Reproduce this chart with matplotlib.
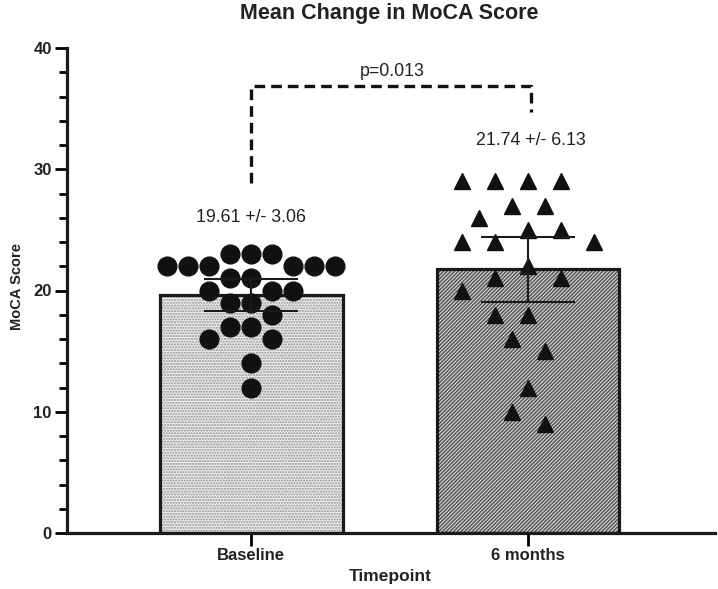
import matplotlib
matplotlib.use('Agg')
import matplotlib.pyplot as plt
import numpy as np

# ---------------- data ----------------
categories = ['Baseline', '6 months']
baseline_scores = [23, 23, 23, 22, 22, 22, 22, 22, 22, 21, 21, 20, 20, 20,
                   19, 19, 18, 17, 17, 16, 16, 14, 12]
month6_scores = [29, 29, 29, 29, 27, 27, 26, 25, 25, 24, 24, 24, 22, 21, 21,
                 20, 18, 18, 16, 15, 12, 10, 9]
means = [19.61, 21.74]
sds = [3.06, 6.13]
ci_half = [1.32, 2.65]
p_label = 'p=0.013'
title = 'Mean Change in MoCA Score'
xlabel = 'Timepoint'
ylabel = 'MoCA Score'

plt.rcParams['font.family'] = ['Liberation Sans', 'DejaVu Sans']

W, H = 718, 589
fig = plt.figure(figsize=(W / 100, H / 100), dpi=100)
ax = fig.add_axes([67 / W, 1 - 533 / H, (715 - 67) / W, (533 - 48) / H])
ax.set_xlim(-0.665, 1.675)
ax.set_ylim(0, 40)

xpos = np.arange(len(categories))
bar_w = 0.66

# bars: hatch layer + outline layer
plt.rcParams['hatch.linewidth'] = 1.0
ax.bar(xpos[0], means[0], width=bar_w, facecolor='#ececec', edgecolor='#909090',
       hatch='......', linewidth=0, zorder=1)
plt.rcParams['hatch.linewidth'] = 1.2
ax.bar(xpos[1], means[1], width=bar_w, facecolor='#e8e8e8', edgecolor='#5a5a5a',
       hatch='/////////', linewidth=0, zorder=1)
ax.bar(xpos, means, width=bar_w, fill=False, edgecolor='#1a1a1a',
       linewidth=2.3, zorder=2)

# swarm layout in pixel space
px_x = ax.transData.transform((1, 0))[0] - ax.transData.transform((0, 0))[0]
px_y = ax.transData.transform((0, 1))[1] - ax.transData.transform((0, 0))[1]


def swarm(vals, step_px, dmin_px):
    vals = np.asarray(vals, float)
    order = np.argsort(-vals, kind='stable')
    cands = [0.0]
    for k in range(1, 60):
        cands += [-k * step_px, k * step_px]
    placed = []
    offs = np.zeros(len(vals))
    for i in order:
        y = vals[i] * px_y
        for c in cands:
            if all(np.hypot(c - px, y - py) >= dmin_px for px, py in placed):
                break
        placed.append((c, y))
        offs[i] = c
    return offs / px_x


off0 = swarm(baseline_scores, 10.5, 19.5)
off1 = swarm(month6_scores, 16.5, 29)

ax.plot(xpos[0] + off0, baseline_scores, 'o', color='#111111', ms=13.5,
        mec='#111111', zorder=3, linestyle='none')
ax.plot(xpos[1] + off1, month6_scores, '^', color='#111111', ms=12,
        mec='#111111', zorder=3, linestyle='none')

# error bars (95% CI)
ax.errorbar(xpos, means, yerr=ci_half, fmt='none', ecolor='#1a1a1a',
            elinewidth=1.5, capsize=34, capthick=1.5, zorder=4)

# value labels
ax.text(xpos[0], 26.0, f'{means[0]:.2f} +/- {sds[0]:.2f}', ha='center',
        va='center', fontsize=12.8, color='#222222')
ax.text(xpos[1] + 0.01, 32.4, f'{means[1]:.2f} +/- {sds[1]:.2f}', ha='center',
        va='center', fontsize=12.8, color='#222222')

# significance bracket
ax.plot([xpos[0], xpos[0], xpos[1] + 0.01, xpos[1] + 0.01],
        [28.9, 36.9, 36.9, 34.7], color='#111111', lw=2.4,
        dashes=(3.2, 1.8), zorder=3, solid_capstyle='butt')
ax.text((xpos[0] + xpos[1]) / 2 + 0.01, 38.1, p_label, ha='center', va='center',
        fontsize=12.8, color='#222222')

# axes styling
for s in ['top', 'right']:
    ax.spines[s].set_visible(False)
for s in ['left', 'bottom']:
    ax.spines[s].set_linewidth(2.3)
    ax.spines[s].set_color('#1a1a1a')
ax.set_yticks(np.arange(0, 41, 10))
ax.set_yticks(np.arange(0, 41, 2), minor=True)
ax.tick_params(axis='y', which='major', length=9, width=2, pad=2,
               labelsize=12)
ax.tick_params(axis='y', which='minor', length=6, width=2)
ax.set_xticks(xpos)
ax.set_xticklabels(categories)
ax.tick_params(axis='x', which='major', length=9, width=2, pad=2,
               labelsize=12)
for lab in ax.get_xticklabels() + ax.get_yticklabels():
    lab.set_fontweight('bold')
    lab.set_color('#222222')

fig.text(389 / W, 1 - 13 / H, title, ha='center', va='center',
         fontsize=15.5, fontweight='bold', color='#222222')
fig.text(390 / W, 1 - 577 / H, xlabel, ha='center', va='center',
         fontsize=12.5, fontweight='bold', color='#222222')
fig.text(17 / W, 1 - 287 / H, ylabel, ha='center', va='center',
         rotation=90, fontsize=10.5, fontweight='bold', color='#222222')

fig.savefig('out.png', dpi=100)
